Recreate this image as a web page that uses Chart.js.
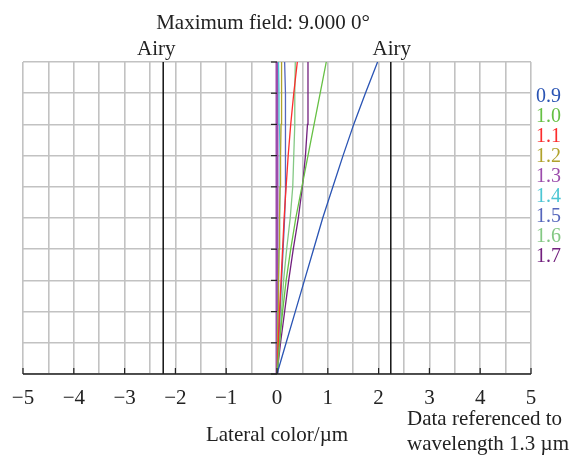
<!DOCTYPE html>
<html>
<head>
<meta charset="utf-8">
<script src="https://cdn.jsdelivr.net/npm/chart.js@4"></script>
<style>
body{margin:0;background:#fff;}
#wrap{width:570px;height:459px;}
</style>
</head>
<body>
<div id="wrap"><canvas id="c" width="570" height="459"></canvas></div>
<script>
// relative field (y) and lateral color per wavelength (x, µm)
const field=[0,0.1,0.2,0.3,0.4,0.5,0.6,0.7,0.8,0.9,1.0];
const wl=['0.9','1.0','1.1','1.2','1.3','1.4','1.5','1.6','1.7'];
const colors=['#2a54b4','#66c044','#fb2d2d','#b0a22c','#9c4cac','#4cc6d4','#5566bc','#84c884','#72207e'];
const lat09=[0,0.18,0.36,0.54,0.72,0.90,1.10,1.30,1.51,1.74,1.98];
const lat10=[0,0.05,0.11,0.18,0.27,0.37,0.49,0.61,0.73,0.85,0.97];
const lat11=[0,0.025,0.05,0.08,0.11,0.14,0.18,0.22,0.27,0.33,0.40];
const lat12=[0,0.01,0.02,0.03,0.04,0.05,0.06,0.07,0.08,0.09,0.09];
const lat13=[0,0,0,0,0,0,0,0,0,0,0];
const lat14=[0,0.01,0.02,0.03,0.04,0.05,0.06,0.06,0.05,0.04,0.03];
const lat15=[0,0.03,0.06,0.09,0.12,0.15,0.17,0.17,0.17,0.16,0.15];
const lat16=[0,0.05,0.09,0.13,0.19,0.26,0.31,0.33,0.35,0.35,0.36];
const lat17=[0,0.07,0.15,0.23,0.32,0.42,0.50,0.56,0.60,0.61,0.61];
const series=[lat09,lat10,lat11,lat12,lat13,lat14,lat15,lat16,lat17];
const airy=2.24;
const xTicks=[-5,-4,-3,-2,-1,0,1,2,3,4,5];

const serif='"Liberation Serif","Times New Roman",serif';

const datasets=series.map((s,i)=>({
  label:wl[i],
  data:s.map((v,k)=>({x:v,y:field[k]})),
  borderColor:colors[i],
  borderWidth:i==4?3:1.3,
  showLine:true,pointRadius:0,tension:0,order:i==4?10:i
}));
datasets.push({label:'airyL',data:[{x:-airy,y:0},{x:-airy,y:1}],borderColor:'#111',borderWidth:1.5,showLine:true,pointRadius:0});
datasets.push({label:'airyR',data:[{x:airy,y:0},{x:airy,y:1}],borderColor:'#111',borderWidth:1.5,showLine:true,pointRadius:0});

const deco={
  id:'deco',
  afterDraw(ch){
    const c=ch.ctx,a=ch.chartArea,xs=ch.scales.x,ys=ch.scales.y;
    const x0=xs.getPixelForValue(0);
    c.save();
    // bottom axis
    c.strokeStyle='#222';c.lineWidth=1.5;
    c.beginPath();c.moveTo(a.left,a.bottom);c.lineTo(a.right,a.bottom);c.stroke();
    // tick marks
    c.lineWidth=1.2;
    xTicks.forEach(t=>{const p=xs.getPixelForValue(t);c.beginPath();c.moveTo(p,a.bottom);c.lineTo(p,a.bottom-6);c.stroke();});
    for(let k=0;k<=10;k++){const p=ys.getPixelForValue(k/10);c.beginPath();c.moveTo(x0-6,p);c.lineTo(x0,p);c.stroke();}
    // text
    c.fillStyle='#222';c.font='21px '+serif;c.textBaseline='alphabetic';c.textAlign='center';
    xTicks.forEach(t=>{
      c.fillText(t<0?'\u2212'+(-t):String(t),xs.getPixelForValue(t),a.bottom+30);
    });
    c.fillText('Maximum field: 9.000 0\u00b0',263,29);
    c.fillText('Airy',xs.getPixelForValue(-airy)-7,55);
    c.fillText('Airy',xs.getPixelForValue(airy)+1,55);
    c.fillText('Lateral color/\u00b5m',x0,441);
    c.textAlign='left';
    c.fillText('Data referenced to',407,425);
    c.fillText('wavelength 1.3 \u00b5m',407,450);
    c.font='20px '+serif;
    wl.forEach((w,i)=>{c.fillStyle=colors[i];c.fillText(w,536,102+i*20);});
    c.restore();
  }
};

new Chart(document.getElementById('c'),{
  type:'scatter',
  data:{datasets},
  options:{
    responsive:false,animation:false,
    layout:{padding:{left:23,right:39,top:62,bottom:85}},
    plugins:{legend:{display:false},tooltip:{enabled:false}},
    scales:{
      x:{type:'linear',min:-5,max:5,
        ticks:{display:false,stepSize:0.5},
        grid:{color:'#c2c2c2',lineWidth:1.6,drawTicks:false},
        border:{display:false}},
      y:{type:'linear',min:0,max:1,
        ticks:{display:false,stepSize:0.1},
        grid:{color:'#c2c2c2',lineWidth:1.6,drawTicks:false},
        border:{display:false}}
    }
  },
  plugins:[deco]
});
</script>
</body>
</html>
